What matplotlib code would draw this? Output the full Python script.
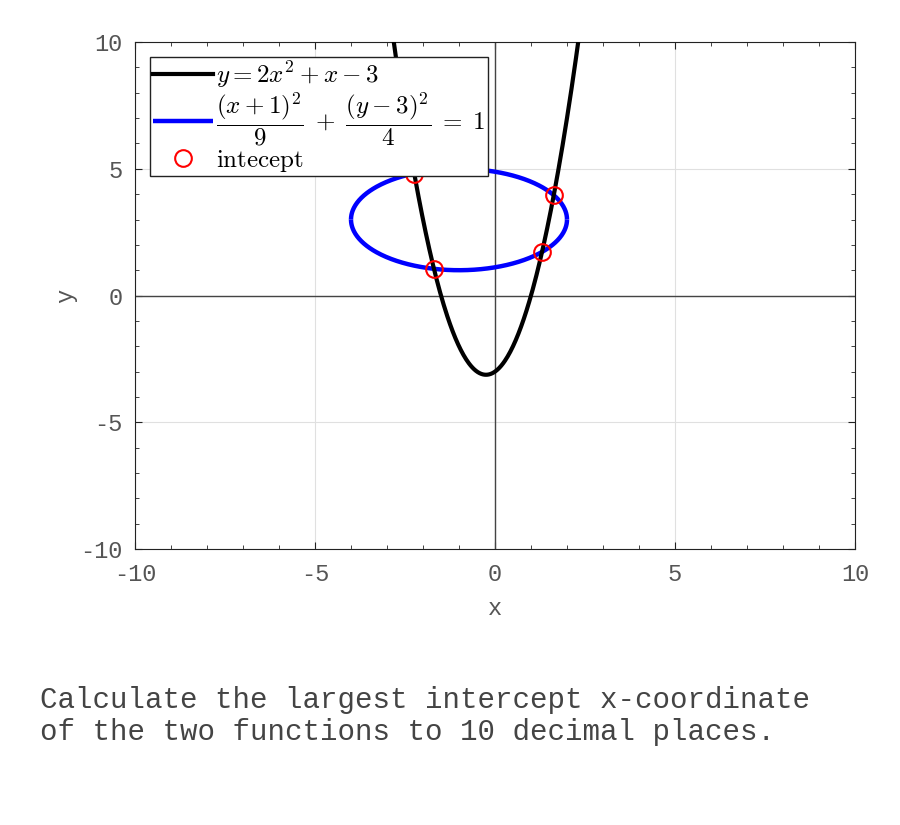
import numpy as np
import matplotlib
matplotlib.use("Agg")
from matplotlib import pyplot as plt
from matplotlib.ticker import MultipleLocator

# parabola y = a x^2 + b x + c
par_coef = [2, 1, -3]
# ellipse (x - h)^2 / rx^2 + (y - k)^2 / ry^2 = 1
ell_center = [-1, 3]
ell_radii = [3, 2]
# intercepts
int_x = [-2.24, -1.70, 1.31, 1.63]
int_y = [4.81, 1.05, 1.72, 3.95]

xlim = [-10, 10]
ylim = [-10, 10]
ticks = [-10, -5, 0, 5, 10]

plt.rcParams['font.family'] = 'Liberation Mono'
plt.rcParams['mathtext.fontset'] = 'cm'
plt.rcParams['axes.unicode_minus'] = False

fig = plt.figure(figsize=(9, 8.25), dpi=100)
ax = fig.add_axes([0.15, 0.3345, 0.8, 0.6145])

ax.axhline(0, color='#444444', lw=1, zorder=1)
ax.axvline(0, color='#444444', lw=1, zorder=1)

xp = np.linspace(xlim[0], xlim[1], 801)
yp = np.polyval(par_coef, xp)
ax.plot(xp, yp, color='black', lw=3, zorder=3, label=r'$y = 2x^2 + x - 3$')

t = np.linspace(0, np.pi, 300)
ex = ell_center[0] + ell_radii[0] * np.cos(t)
ey = ell_center[1] + ell_radii[1] * np.sin(t)
ax.plot(ex, ey, color='blue', lw=3.2, zorder=2, solid_capstyle='butt',
        label=r'$\dfrac{(x+1)^2}{9} \;+\; \dfrac{(y-3)^2}{4} \;=\; 1$')
ax.plot(ex, 2 * ell_center[1] - ey, color='blue', lw=3.2, zorder=2,
        solid_capstyle='butt')

ax.plot(int_x, int_y, 'o', mfc='none', mec='red', ms=12, mew=1.5, zorder=4,
        label=r'$\mathrm{intecept}$')

ax.set_xlim(xlim)
ax.set_ylim(ylim)
ax.set_xticks(ticks)
ax.set_yticks(ticks)
ax.xaxis.set_minor_locator(MultipleLocator(1))
ax.yaxis.set_minor_locator(MultipleLocator(1))
ax.tick_params(which='both', direction='in', top=True, right=True,
               labelsize=17, colors='#222222', labelcolor='#555555')
ax.tick_params(which='major', length=5)
ax.tick_params(which='minor', length=3)
ax.tick_params(axis='x', pad=10)
ax.tick_params(axis='y', pad=9)
ax.grid(True, which='major', color='#e0e0e0', lw=0.8)
ax.set_axisbelow(True)
for s in ax.spines.values():
    s.set_color('#222222')
ax.set_xlabel('x', fontsize=17, color='#555555', labelpad=8)
ax.set_ylabel('y', fontsize=17, color='#555555', labelpad=2)

leg = ax.legend(loc='upper left', fontsize=18, frameon=True, fancybox=False,
                framealpha=1, edgecolor='#222222', handlelength=2.4,
                handletextpad=0.15, borderpad=0.1, labelspacing=0.0,
                borderaxespad=0.6)
leg.get_frame().set_linewidth(1)

fig.text(40 / 900, 1 - 716 / 825,
         'Calculate the largest intercept x-coordinate\nof the two functions to 10 decimal places.',
         fontsize=21, color='#444444', va='center', ha='left', linespacing=1.2)

fig.savefig('out.png', dpi=100)
